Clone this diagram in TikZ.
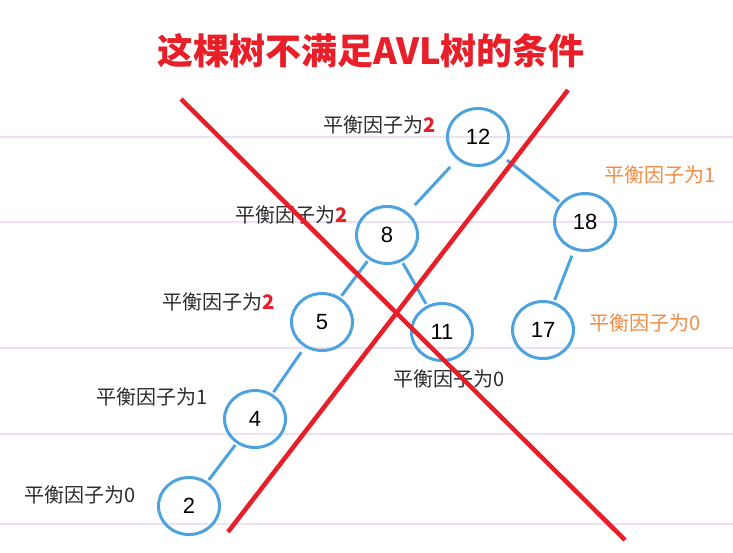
\documentclass[tikz,border=0pt]{standalone}
\usepackage{fontspec}
\setmainfont{Liberation Sans}
\newfontfamily\cjk{Noto Sans CJK SC}
\usetikzlibrary{shapes.geometric}
\definecolor{treeblue}{RGB}{78,163,222}
\definecolor{crossred}{RGB}{232,30,40}
\definecolor{bforange}{RGB}{242,140,70}
\definecolor{rulepink}{RGB}{238,224,243}
\definecolor{bfgray}{RGB}{45,45,45}
\tikzset{
  avl/.style={ellipse, draw=treeblue, line width=3pt, minimum width=61pt, minimum height=57pt, inner sep=0pt, font=\fontsize{22}{22}\selectfont},
  bf/.style={font=\cjk\fontsize{20}{20}\selectfont, text=bfgray, inner sep=0pt},
  bforng/.style={bf, text=bforange},
  edge/.style={treeblue, line width=3pt, shorten >=2pt, shorten <=2pt}
}
\newcommand{\two}{\textcolor{crossred}{\bfseries 2}}

\begin{document}
\begin{tikzpicture}[x=1pt, y=-1pt]
    \useasboundingbox (0,0) rectangle (733,552);
    \fill[white] (0,0) rectangle (733,552);
    \foreach \y in {137, 222, 348, 434, 524}
      \draw[rulepink, line width=1.5pt] (0,\y) -- (733,\y);

    \node[avl] (n12) at (478, 137) {12};
    \node[avl] (n18) at (585, 222) {18};
    \node[avl] (n8) at (387, 235) {8};
    \node[avl] (n5) at (322, 322) {5};
    \node[avl] (n11) at (442, 332) {11};
    \node[avl] (n17) at (543, 330) {17};
    \node[avl] (n4) at (255, 419) {4};
    \node[avl] (n2) at (189, 506) {2};

    \node[bf] (b12) at (380, 125) {平衡因子为\two};
    \node[bforng] (b18) at (660, 175) {平衡因子为1};
    \node[bf] (b8) at (292, 215) {平衡因子为\two};
    \node[bf] (b5) at (219, 302) {平衡因子为\two};
    \node[bf] (b11) at (449, 379) {平衡因子为0};
    \node[bforng] (b17) at (645, 323) {平衡因子为0};
    \node[bf] (b4) at (152, 397) {平衡因子为1};
    \node[bf] (b2) at (80, 495) {平衡因子为0};

    \draw [edge, shorten >=10pt, shorten <=10pt] (n12) to (n8);
    \draw [edge, shorten <=6pt] (n12) to (n18);
    \draw [edge] (n8) to (n5);
    \draw [edge] (n8) to (n11);
    \draw [edge, shorten <=6pt] (n18) to (n17);
    \draw [edge, shorten <=6pt] (n5) to (n4);
    \draw [edge] (n4) to (n2);

    % the red cross
    \coordinate (c1) at (181, 99);
    \coordinate (c2) at (625, 540);
    \coordinate (c3) at (568, 90);
    \coordinate (c4) at (228, 532);
    \draw [crossred, line width=4.5pt] (c1) -- (c2);
    \draw [crossred, line width=4.5pt] (c3) -- (c4);

    \node[font=\cjk\bfseries\fontsize{36}{36}\selectfont, text=crossred] (title) at (371, 51) {这棵树不满足AVL树的条件};
\end{tikzpicture}
\end{document}
